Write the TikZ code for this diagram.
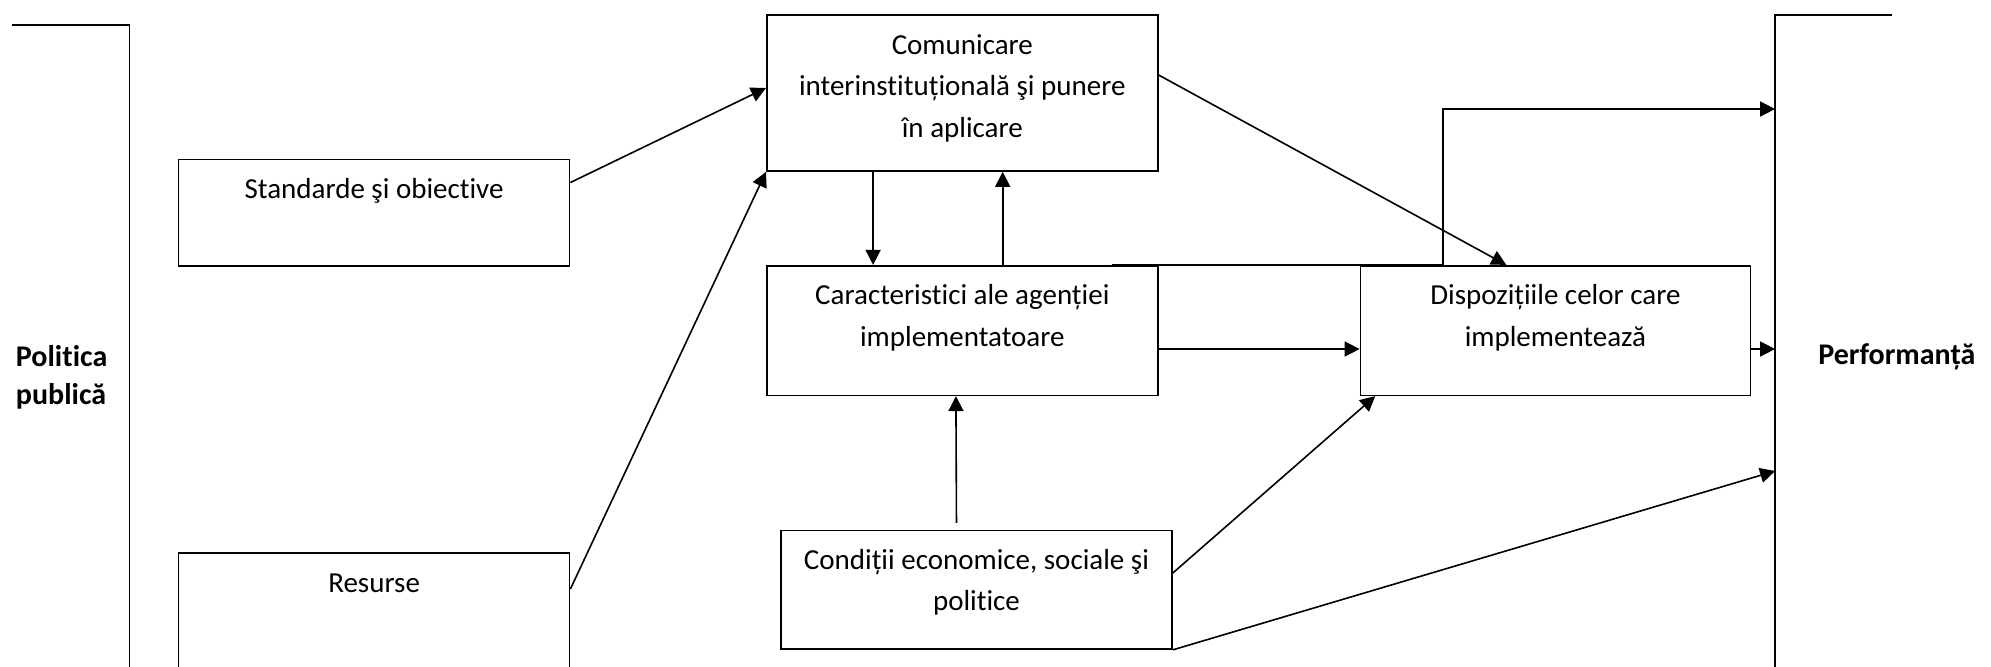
\documentclass[tikz,border=0pt]{standalone}
\usepackage{fontspec}
\setmainfont{Carlito}[RawFeature={-liga;-dlig;-clig;-calt;-hlig}]
\usetikzlibrary{positioning,arrows.meta}

\begin{document}
\begin{tikzpicture}[x=0.5pt,y=-0.5pt,
  box/.style={draw, line width=0.8pt, minimum width=195.5pt},
  lbl/.style={inner sep=0pt, align=center, font=\fontsize{14.5}{20.75}\selectfont},
  big/.style={inner sep=0pt, align=left, font=\fontsize{15}{18.7}\selectfont\bfseries},
  arr/.style={line width=0.8pt, -{Triangle[length=7.5pt,width=7.5pt]}}]
\clip (0,0) rectangle (1991,666);
% boxes
\node[box, minimum height=53.2pt] (std) at (374.1,212.5) {};
\node[box, minimum height=78.5pt] (res) at (374.1,631.5) {};
\node[box, minimum height=78pt] (comm) at (962.3,93) {};
\node[box, minimum height=64.8pt] (char) at (962.3,330.5) {};
\node[box, minimum height=64.8pt, minimum width=195pt] (disp) at (1555.4,330.5) {};
\node[box, minimum height=59.35pt] (cond) at (976.5,589.7) {};
% texts
\node[lbl, below=5.2pt of std.north] (stdtxt) {\strut Standarde şi obiective};
\node[lbl, below=5.2pt of res.north] (restxt) {\strut Resurse};
\node[lbl, below=5.2pt of comm.north] (commtxt) {\strut Comunicare\\ interinstituțională şi punere\\ în aplicare};
\node[lbl, below=5.2pt of char.north] (chartxt) {\strut Caracteristici ale agenției\\ implementatoare};
\node[lbl, below=5.2pt of disp.north] (disptxt) {\strut Dispozițiile celor care\\ implementează};
\node[lbl, below=5.2pt of cond.north] (condtxt) {\strut Condiții economice, sociale şi\\ politice};
% the two sides
\draw[line width=0.8pt] (12,25) -- (129.5,25) -- (129.5,710);
\coordinate (perf) at (1775.1,15);
\draw[line width=0.8pt] (1891.9,15) -- (perf) -- (1775.1,710);
\node[big, anchor=north west] (pol) at (15.6,340.1) {\strut Politica\\ publică};
\node[big, anchor=base west] (perftxt) at (1818,364.7) {Performanță};
% arrows
\draw[arr] ([yshift=15pt]std.east) -- ([yshift=2.5pt]comm.west);
\draw[arr] ([yshift=-18.4pt]res.north east) -- (comm.south west);
\draw[arr] ([xshift=-44.6pt]comm.south) -- ([xshift=-44.6pt]char.north);
\draw[arr] ([xshift=20.2pt]char.north) -- ([xshift=20.2pt]comm.south);
\draw[arr] ([yshift=-9.25pt]char.east) -- ([yshift=-9.25pt]disp.west);
\draw[arr] ([yshift=-9.25pt]disp.east) -- ([yshift=-167pt]perf);
\draw[arr] ([yshift=9pt]comm.east) -- ([xshift=-24.55pt]disp.north);
\draw[arr] ([xshift=-23.5pt]char.north east) -- ([xshift=-56.1pt]disp.north) |- ([yshift=-47pt]perf);
\draw[arr, shorten <=3.3pt] ([xshift=-10pt]cond.north) -- ([xshift=-3.2pt]char.south);
\draw[arr] ([yshift=8.35pt]cond.east) -- ([xshift=7.8pt]disp.south west);
\draw[arr] (cond.south east) -- ([yshift=-228pt]perf);
\end{tikzpicture}
\end{document}
